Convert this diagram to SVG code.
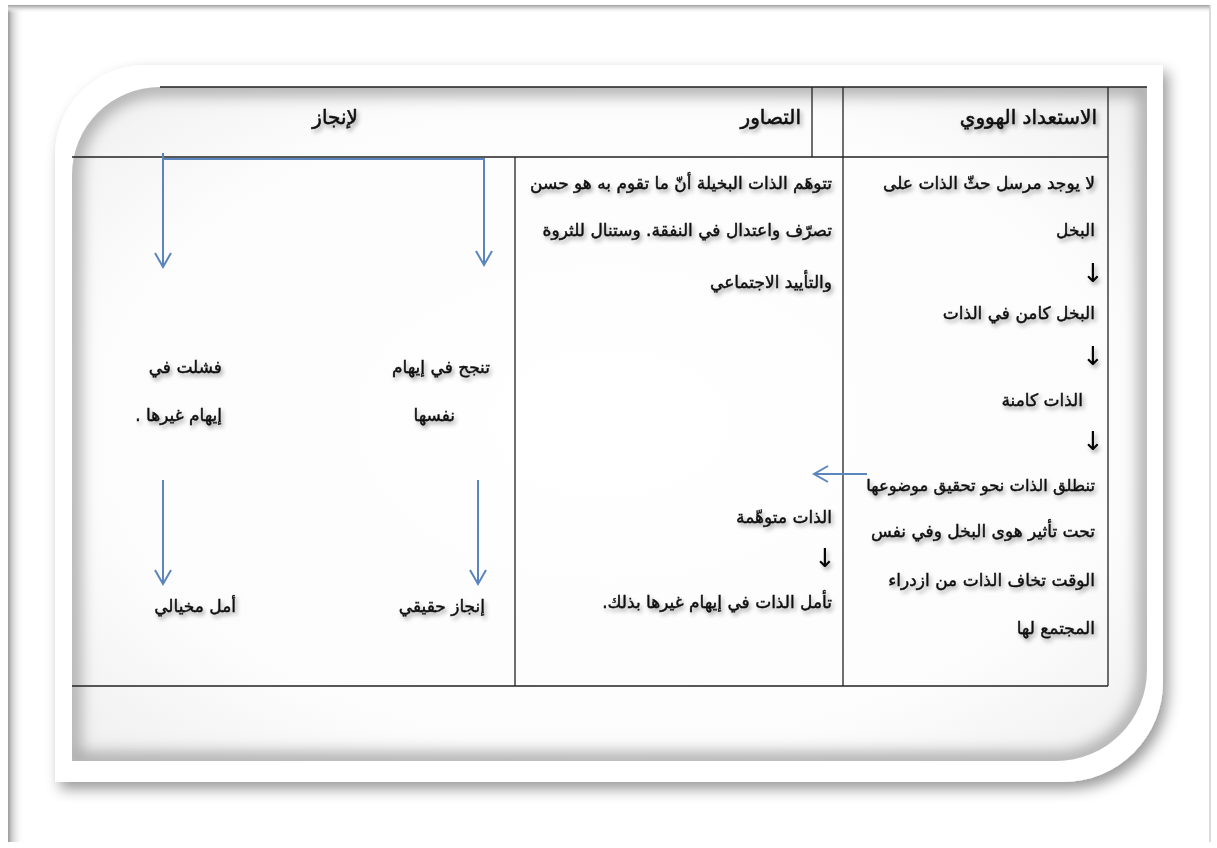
<svg xmlns="http://www.w3.org/2000/svg" width="1217" height="848" viewBox="0 0 1217 848">
<style>
.t{font-family:"DejaVu Sans",sans-serif;font-size:17px;fill:#111;stroke:#111;stroke-width:0.45;direction:rtl;filter:url(#ts)}
.h{font-size:20px;stroke-width:0.55}
.s{font-size:16.4px}
.ar{font-family:"DejaVu Sans",sans-serif;font-size:26px;fill:#000;filter:url(#ts)}
.grid{stroke:#222;stroke-width:1.3;fill:none}
.blue{stroke:#5a86bd;stroke-width:2;fill:none}
</style>
<defs>
<filter id="ts" x="-10%" y="-30%" width="130%" height="180%">
<feDropShadow dx="2" dy="3" stdDeviation="2" flood-color="#000" flood-opacity="0.35"/>
</filter>
<filter id="ds" x="-5%" y="-5%" width="115%" height="120%">
<feDropShadow dx="5" dy="7" stdDeviation="7" flood-color="#000" flood-opacity="0.4"/>
</filter>
<filter id="blur8"><feGaussianBlur stdDeviation="8"/></filter>
<clipPath id="innerClip"><path d="M160,87 H1147 V670 A91 91 0 0 1 1056,761 H72 V175 A88 88 0 0 1 160,87 Z"/></clipPath>
<linearGradient id="leftEdge" x1="0" y1="0" x2="1" y2="0">
<stop offset="0" stop-color="#9a9a9a"/>
<stop offset="0.25" stop-color="#cfcfcf"/>
<stop offset="1" stop-color="#ffffff" stop-opacity="0"/>
</linearGradient>
<linearGradient id="topEdge" x1="0" y1="0" x2="0" y2="1">
<stop offset="0" stop-color="#a0a0a0"/>
<stop offset="0.4" stop-color="#d8d8d8"/>
<stop offset="1" stop-color="#ffffff" stop-opacity="0"/>
</linearGradient>
<radialGradient id="innerBg" cx="0.5" cy="0.5" r="0.7">
<stop offset="0" stop-color="#ffffff"/>
<stop offset="0.7" stop-color="#fcfcfc"/>
<stop offset="1" stop-color="#efefef"/>
</radialGradient>
<marker id="ah" markerUnits="userSpaceOnUse" markerWidth="20" markerHeight="20" refX="15" refY="9" orient="auto">
<path d="M1,1 L15,9 L1,17" fill="none" stroke="#5a86bd" stroke-width="2"/>
</marker>
</defs>
<!-- page -->
<rect x="0" y="0" width="1217" height="848" fill="#ffffff"/>
<rect x="8" y="5" width="16" height="837" fill="url(#leftEdge)"/>
<rect x="8" y="5" width="1202" height="8" fill="url(#topEdge)"/>
<line x1="1210" y1="5" x2="1210" y2="842" stroke="#d0d0d0" stroke-width="1.5"/>
<!-- frame -->
<path d="M145,65 H1163 V682 A100 100 0 0 1 1063,782 H55 V155 A90 90 0 0 1 145,65 Z" fill="#ffffff" filter="url(#ds)"/>
<path d="M160,87 H1147 V670 A91 91 0 0 1 1056,761 H72 V175 A88 88 0 0 1 160,87 Z" fill="url(#innerBg)"/>
<g clip-path="url(#innerClip)">
<path d="M160,87 H1147 V670 A91 91 0 0 1 1056,761 H72 V175 A88 88 0 0 1 160,87 Z" fill="none" stroke="#a5a5a5" stroke-width="16" filter="url(#blur8)"/>
</g>
<!-- table grid -->
<g id="table">
<line class="grid" x1="160" y1="87" x2="1147" y2="87"/>
<line class="grid" x1="72" y1="157" x2="1108" y2="157"/>
<line class="grid" x1="72" y1="686" x2="1108" y2="686"/>
<line class="grid" x1="1108" y1="87" x2="1108" y2="686"/>
<line class="grid" x1="843" y1="87" x2="843" y2="686"/>
<line class="grid" x1="812" y1="87" x2="812" y2="157"/>
<line class="grid" x1="515" y1="157" x2="515" y2="686"/>
</g>
<!-- headers -->
<g id="header-readiness"><text class="t h" x="1097" y="124">الاستعداد الهووي</text></g>
<g id="header-conception"><text class="t h" x="801" y="124">التصاور</text></g>
<g id="header-achievement"><text class="t h" x="358" y="124">لإنجاز</text></g>
<!-- column 1 -->
<g id="col-readiness">
<text class="t" x="1095" y="189">لا يوجد مرسل حثّ الذات على</text>
<text class="t" x="1095" y="236">البخل</text>
<text class="ar" x="1082" y="282">↓</text>
<text class="t" x="1095" y="319">البخل كامن في الذات</text>
<text class="ar" x="1082" y="365">↓</text>
<text class="t" x="1083" y="406">الذات كامنة</text>
<text class="ar" x="1082" y="450">↓</text>
<text class="t s" x="1095" y="491">تنطلق الذات نحو تحقيق موضوعها</text>
<text class="t" x="1095" y="537">تحت تأثير  هوى البخل وفي نفس</text>
<text class="t" x="1095" y="586">الوقت تخاف الذات من ازدراء</text>
<text class="t" x="1095" y="634">المجتمع لها</text>
</g>
<!-- column 2 -->
<g id="col-conception">
<text class="t" x="832" y="189">تتوهَم الذات البخيلة أنّ ما تقوم به هو حسن</text>
<text class="t" x="832" y="236">تصرّف واعتدال في النفقة. وستنال للثروة</text>
<text class="t" x="832" y="288">والتأييد الاجتماعي</text>
</g>
<g id="col-conception-self">
<text class="t" x="832" y="523">الذات متوهّمة</text>
<text class="ar" x="814" y="567">↓</text>
<text class="t" x="832" y="608">تأمل الذات في إيهام غيرها بذلك.</text>
</g>
<!-- column 3 -->
<g id="node-succeed">
<text class="t" x="490" y="373">تنجح في إيهام</text>
<text class="t" x="455" y="421">نفسها</text>
</g>
<g id="node-fail">
<text class="t" x="222" y="373">فشلت في</text>
<text class="t" x="222" y="421">إيهام غيرها .</text>
</g>
<g id="node-real">
<text class="t" x="485" y="612">إنجاز حقيقي</text>
</g>
<g id="node-imaginary">
<text class="t" x="236" y="612">أمل مخيالي</text>
</g>
<!-- connectors -->
<g id="connectors">
<path class="blue" d="M867,474 H814" marker-end="url(#ah)"/>
<path class="blue" d="M163,153 V267" marker-end="url(#ah)"/>
<path class="blue" d="M163,159 H484 V265" marker-end="url(#ah)"/>
<path class="blue" d="M163,480 V584" marker-end="url(#ah)"/>
<path class="blue" d="M478,480 V584" marker-end="url(#ah)"/>
</g>
</svg>
